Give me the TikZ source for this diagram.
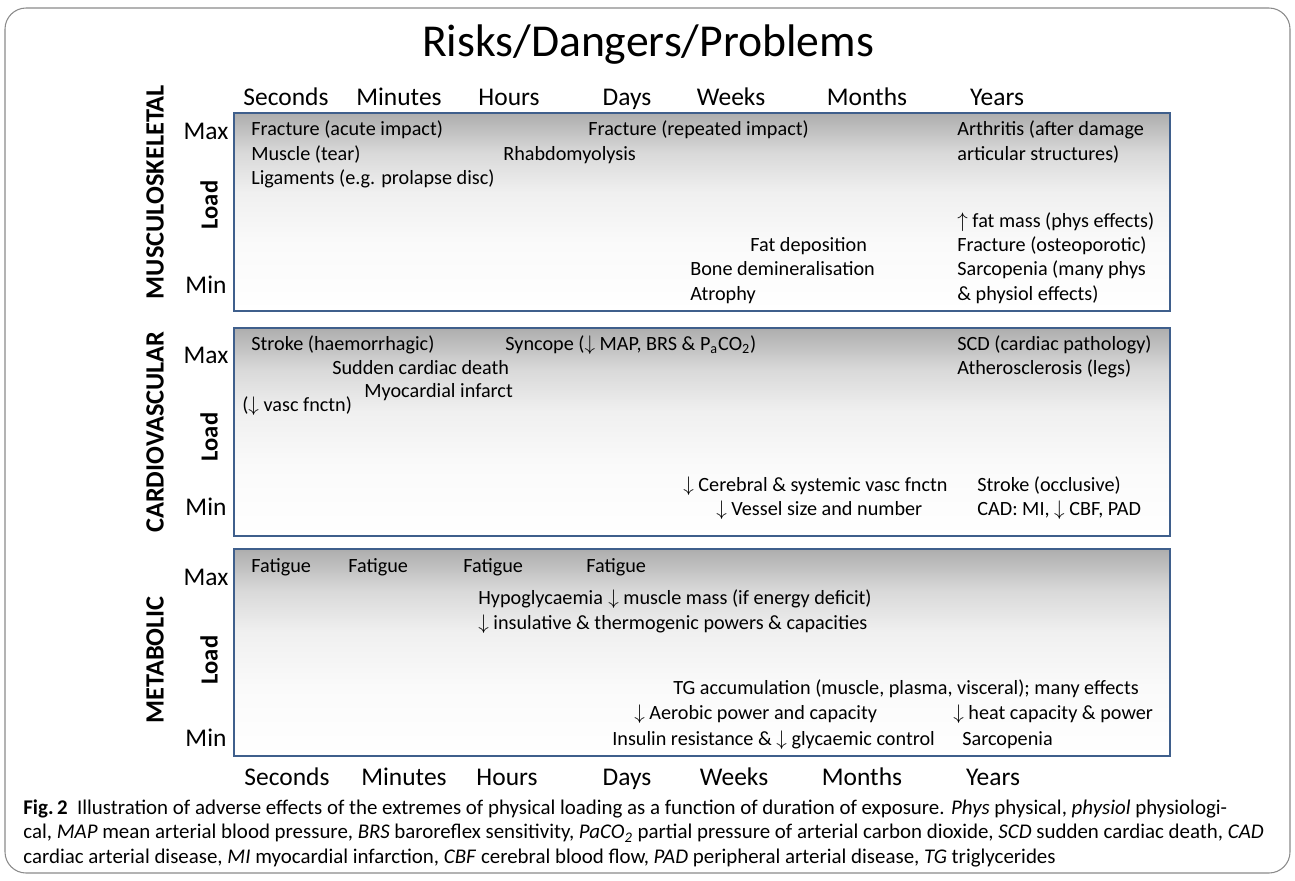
\documentclass[tikz,border=0pt]{standalone}
\usepackage{fontspec}
\setmainfont{Carlito}

\definecolor{panelblue}{HTML}{3F5F8C}
\definecolor{framegray}{HTML}{8A8A8A}
\pgfdeclareverticalshading{panelfade}{100bp}{color(0bp)=(white); color(25bp)=(white); color(42bp)=(gray!4); color(55bp)=(gray!12); color(65bp)=(gray!30); color(75bp)=(gray!64); color(100bp)=(gray!64)}

\tikzset{
  panel/.style={draw=panelblue, line width=1.4pt, shading=panelfade},
  risk/.style={anchor=base west, yshift=-2.9pt, inner sep=0pt, font=\fontsize{11.5}{13}\selectfont},
  tlab/.style={anchor=base, yshift=-5.4pt, inner sep=0pt, font=\fontsize{14.5}{17}\selectfont},
  side/.style={rotate=90, inner sep=0pt, font=\fontsize{15}{17}\selectfont\bfseries},
  loadlab/.style={rotate=90, inner sep=0pt, font=\fontsize{14}{17}\selectfont\bfseries},
}

\begin{document}
\begin{tikzpicture}[x=0.02cm, y=-0.02cm]
    \useasboundingbox (0,0) rectangle (1295,880);
    \draw[framegray, line width=0.6pt, rounded corners=12] (5,8) rectangle (1290,873);
    \node[inner sep=0pt, font=\fontsize{26}{30}\selectfont] (title) at (648,45) {Risks/Dangers/Problems};
    % time axis, top and bottom
    \foreach \t/\x in {Seconds/286, Minutes/399, Hours/509, Days/627, Weeks/731, Months/867, Years/997}
        \node[tlab] (top\t) at (\x,96) {\t};
    \foreach \t/\x in {Seconds/287, Minutes/404, Hours/507, Days/627, Weeks/734, Months/862, Years/993}
        \node[tlab] (bot\t) at (\x,776) {\t};
    % panels
    \draw[panel] (234,113) rectangle (1170,311);
    \draw[panel] (234,328) rectangle (1170,536);
    \draw[panel] (234,549) rectangle (1170,756);
    \foreach \n/\a/\b/\c in {ms/130/205/284, cv/354/437/506, mb/576/660/737} {
        \node[tlab] (max\n) at (206,\a) {Max};
        \node[loadlab] (load\n) at (209,\b) {Load};
        \node[tlab] (min\n) at (206,\c) {Min};
    }
    \node[side] (musc) at (155,192) {MUSCULOSKELETAL};
    \node[side] (card) at (155,432) {CARDIOVASCULAR};
    \node[side] (meta) at (155,660) {METABOLIC};
    % musculoskeletal
    \node[risk] (fracacute) at (251,130) {Fracture (acute impact)};
    \node[risk] (muscletear) at (251,155) {Muscle (tear)};
    \node[risk] (ligaments) at (251,179) {Ligaments (e.g. prolapse disc)};
    \node[risk] (fracrep) at (588,130) {Fracture (repeated impact)};
    \node[risk] (rhabdo) at (503,155) {Rhabdomyolysis};
    \node[risk] (arthritis) at (957,130) {Arthritis (after damage};
    \node[risk] (articular) at (957,155) {articular structures)};
    \node[risk] (fatmass) at (957,222) {$\uparrow$ fat mass (phys effects)};
    \node[risk] (fracost) at (957,246) {Fracture (osteoporotic)};
    \node[risk] (sarcopenia) at (957,270) {Sarcopenia (many phys};
    \node[risk] (physiol) at (957,295) {\& physiol effects)};
    \node[risk] (fatdep) at (750,246) {Fat deposition};
    \node[risk] (bonedemin) at (690,270) {Bone demineralisation};
    \node[risk] (atrophy) at (690,295) {Atrophy};
    % cardiovascular
    \node[risk] (strokeh) at (251,345) {Stroke (haemorrhagic)};
    \node[risk] (suddencd) at (332,369) {Sudden cardiac death};
    \node[risk] (myocard) at (364,392) {Myocardial infarct};
    \node[risk] (vascfn) at (242,406) {($\downarrow$ vasc fnctn)};
    \node[risk] (syncope) at (505,345) {Syncope ($\downarrow$ MAP, BRS \& P\textsubscript{a}CO\textsubscript{2})};
    \node[risk] (scd) at (957,345) {SCD (cardiac pathology)};
    \node[risk] (athero) at (957,369) {Atherosclerosis (legs)};
    \node[risk] (cerebral) at (683,486) {$\downarrow$ Cerebral \& systemic vasc fnctn};
    \node[risk] (vessel) at (716,510) {$\downarrow$ Vessel size and number};
    \node[risk] (strokeo) at (977,486) {Stroke (occlusive)};
    \node[risk] (cad) at (977,510) {CAD: MI, $\downarrow$ CBF, PAD};
    % metabolic
    \foreach \x [count=\i] in {251, 348, 463, 586}
        \node[risk] (fatigue\i) at (\x,567) {Fatigue};
    \node[risk] (hypo) at (478,599) {Hypoglycaemia};
    \node[risk] (musclemass) at (608,599) {$\downarrow$ muscle mass (if energy deficit)};
    \node[risk] (insulative) at (478,624) {$\downarrow$ insulative \& thermogenic powers \& capacities};
    \node[risk] (tgacc) at (673,689) {TG accumulation (muscle, plasma, visceral); many effects};
    \node[risk] (aerobic) at (634,714) {$\downarrow$ Aerobic power and capacity};
    \node[risk] (heatcap) at (953,714) {$\downarrow$ heat capacity \& power};
    \node[risk] (insulin) at (612,740) {Insulin resistance \& $\downarrow$ glycaemic control};
    \node[risk] (sarco) at (962,740) {Sarcopenia};
    % caption
    \node[anchor=north west, align=left, inner sep=0pt, font=\fontsize{11.9}{14.2}\selectfont] (caption) at (23,799)
        {\textbf{Fig.\,2}\ \ Illustration of adverse effects of the extremes of physical loading as a function of duration of exposure. \textit{Phys} physical, \textit{physiol} physiologi-\\
         cal, \textit{MAP} mean arterial blood pressure, \textit{BRS} baroreflex sensitivity, \textit{PaCO\textsubscript{2}} partial pressure of arterial carbon dioxide, \textit{SCD} sudden cardiac death, \textit{CAD}\\
         cardiac arterial disease, \textit{MI} myocardial infarction, \textit{CBF} cerebral blood flow, \textit{PAD} peripheral arterial disease, \textit{TG} triglycerides};
\end{tikzpicture}
\end{document}
